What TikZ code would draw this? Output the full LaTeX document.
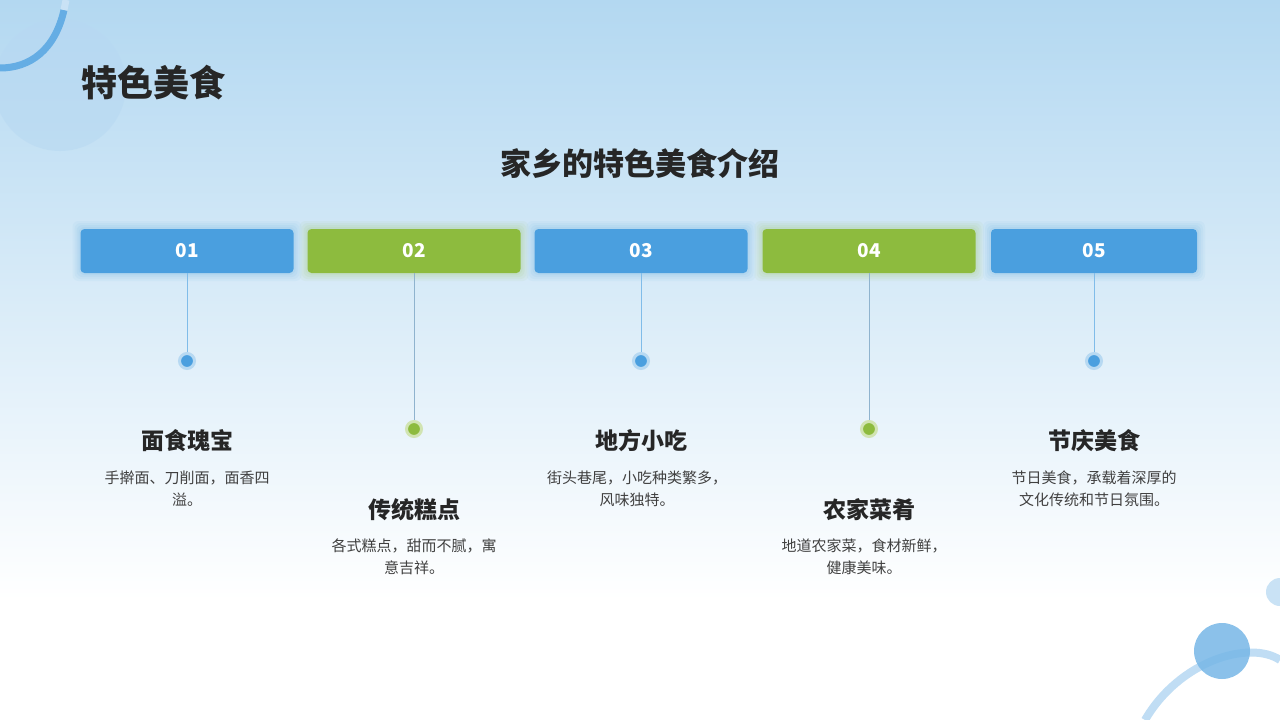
\documentclass[tikz,border=0pt]{standalone}
\usepackage{fontspec}
\setmainfont{Noto Sans CJK SC}
\definecolor{bluec}{HTML}{4A9FDF}
\definecolor{greenc}{HTML}{8DBB3E}
\definecolor{bgtop}{HTML}{B3D8F1}
\definecolor{txt}{HTML}{262626}
\definecolor{sub}{HTML}{404040}
\tikzset{
  numbox/.style={rounded corners=4pt, minimum width=213pt, minimum height=44pt, text=white, font=\bfseries\fontsize{19}{19}\selectfont},
  ttl/.style={text=txt, font=\bfseries\fontsize{23}{23}\selectfont},
  desc/.style={text=sub, align=center, font=\fontsize{15}{22}\selectfont},
  conn/.style={draw=#1!70, line width=0.8pt},
  dot/.style={circle, fill=#1, draw=#1!40, line width=3pt, minimum size=15pt, inner sep=0pt}
}
\newcommand{\glowbox}[4]{% x y w color
  \foreach \g/\o in {8/0.05,6/0.06,4/0.07,2/0.08}{
    \fill[#4, opacity=\o, rounded corners=6pt] (#1-#3/2-\g,#2-22-\g) rectangle (#1+#3/2+\g,#2+22+\g);
  }}
\begin{document}
\begin{tikzpicture}[x=1pt,y=-1pt]
\useasboundingbox (0,0) rectangle (1280,720);
\shade[top color=bgtop, bottom color=white] (0,0) rectangle (1280,600);
\fill[white] (0,600) rectangle (1280,720);
% decorations
\fill[bluec!40, opacity=0.55] (60,85) circle (66);
\draw[bluec!85, line width=7pt] (0,68) .. controls (30,68) and (55,50) .. (64,10);
\draw[bluec!30, line width=7pt] (64,10) -- (66,0);
\fill[bluec!30] (1280,592) circle (14);
\draw[bluec!35, line width=8pt] (1145,720) .. controls (1180,660) and (1250,640) .. (1280,660);
\fill[bluec!75, opacity=0.85] (1222,651) circle (28);
% titles
\node[text=txt, font=\bfseries\fontsize{36}{36}\selectfont] (main) at (153,83) {特色美食};
\node[text=txt, font=\bfseries\fontsize{31}{31}\selectfont] (sub) at (640,163) {家乡的特色美食介绍};
% boxes
\glowbox{187}{251}{213}{bluec}
\glowbox{414}{251}{213}{greenc}
\glowbox{641}{251}{213}{bluec}
\glowbox{869}{251}{213}{greenc}
\glowbox{1094}{251}{206}{bluec}
\node[numbox, fill=bluec] (b1) at (187,251) {01};
\node[numbox, fill=greenc] (b2) at (414,251) {02};
\node[numbox, fill=bluec] (b3) at (641,251) {03};
\node[numbox, fill=greenc] (b4) at (869,251) {04};
\node[numbox, fill=bluec, minimum width=206pt] (b5) at (1094,251) {05};
% dots
\node[dot=bluec] (d1) at (187,361) {};
\node[dot=greenc] (d2) at (414,429) {};
\node[dot=bluec] (d3) at (641,361) {};
\node[dot=greenc] (d4) at (869,429) {};
\node[dot=bluec] (d5) at (1094,361) {};
\draw[conn=bluec] (b1) -- (d1);
\draw[conn=bluec!60!gray] (b2) -- (d2);
\draw[conn=bluec] (b3) -- (d3);
\draw[conn=bluec!60!gray] (b4) -- (d4);
\draw[conn=bluec] (b5) -- (d5);
% texts
\node[ttl] (t1) at (187,441) {面食瑰宝};
\node[desc, anchor=north] (s1) at (187,467) {手擀面、刀削面，面香四\\溢。};
\node[ttl] (t2) at (414,510) {传统糕点};
\node[desc, anchor=north] (s2) at (414,535) {各式糕点，甜而不腻，寓\\意吉祥。};
\node[ttl] (t3) at (641,441) {地方小吃};
\node[desc, anchor=north] (s3) at (637,467) {街头巷尾，小吃种类繁多，\\风味独特。};
\node[ttl] (t4) at (869,510) {农家菜肴};
\node[desc, anchor=north] (s4) at (864,535) {地道农家菜，食材新鲜，\\健康美味。};
\node[ttl] (t5) at (1094,441) {节庆美食};
\node[desc, anchor=north] (s5) at (1094,467) {节日美食，承载着深厚的\\文化传统和节日氛围。};
\end{tikzpicture}
\end{document}
